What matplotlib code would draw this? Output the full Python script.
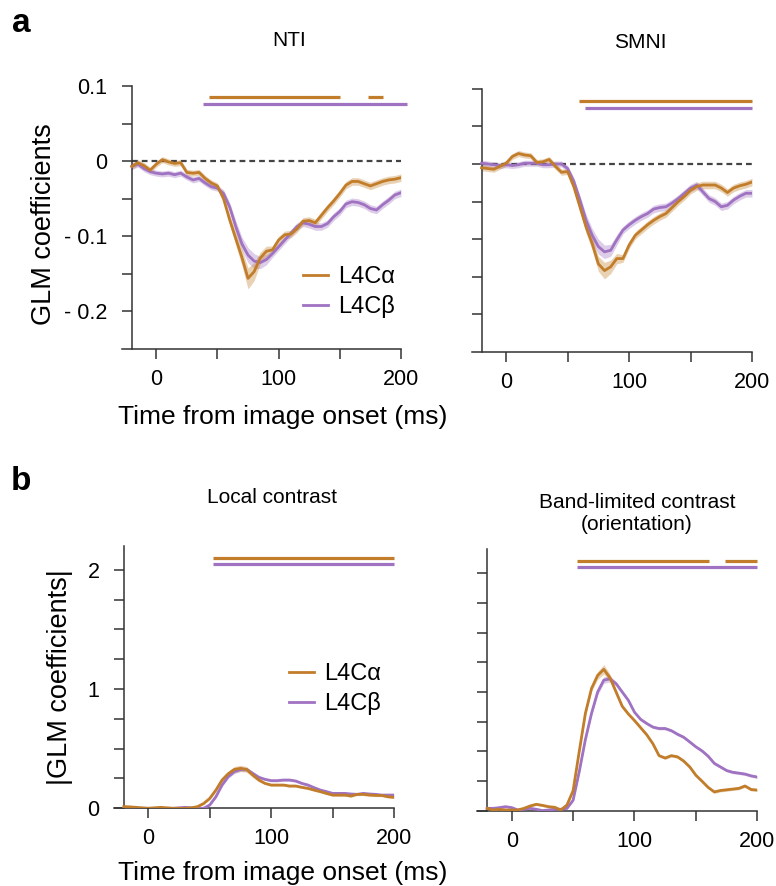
import numpy as np
import matplotlib
matplotlib.use('Agg')
import matplotlib.pyplot as plt

plt.rcParams['font.family'] = ['Liberation Sans', 'DejaVu Sans']

# eje temporal (ms desde el inicio de la imagen)
t = np.arange(-20, 205, 5)

# ---- panel a: NTI ----
nti_alpha = [-0.007, -0.002, -0.006, -0.012, -0.004, 0.002, -0.001, -0.003, -0.002, -0.015,
             -0.016, -0.015, -0.023, -0.029, -0.033, -0.050, -0.078, -0.103, -0.128, -0.156,
             -0.147, -0.129, -0.120, -0.118, -0.105, -0.098, -0.097, -0.090, -0.080, -0.079,
             -0.082, -0.072, -0.062, -0.053, -0.043, -0.032, -0.027, -0.027, -0.030, -0.033,
             -0.030, -0.027, -0.025, -0.024, -0.022]
nti_alpha_err = [0.004] * 15 + [0.005, 0.007, 0.009, 0.011, 0.014, 0.012, 0.008, 0.007] + [0.005] * 22
nti_beta = [-0.007, -0.004, -0.010, -0.014, -0.016, -0.017, -0.016, -0.018, -0.016, -0.021,
            -0.025, -0.023, -0.029, -0.034, -0.036, -0.043, -0.061, -0.087, -0.110, -0.125,
            -0.133, -0.135, -0.131, -0.123, -0.114, -0.105, -0.096, -0.087, -0.082, -0.084,
            -0.087, -0.087, -0.083, -0.074, -0.067, -0.057, -0.054, -0.055, -0.058, -0.063,
            -0.065, -0.058, -0.052, -0.045, -0.042]
nti_beta_err = [0.004] * 15 + [0.005, 0.006, 0.008, 0.009, 0.010, 0.010, 0.008, 0.007] + [0.005] * 22

# ---- panel a: SMNI ----
smni_alpha = [-0.005, -0.006, -0.007, -0.003, 0.001, 0.010, 0.014, 0.012, 0.011, 0.002,
              0.003, 0.006, -0.003, -0.011, -0.010, -0.030, -0.057, -0.084, -0.106, -0.133,
              -0.142, -0.137, -0.126, -0.126, -0.108, -0.095, -0.088, -0.081, -0.075, -0.070,
              -0.066, -0.058, -0.050, -0.043, -0.035, -0.030, -0.028, -0.028, -0.028, -0.032,
              -0.038, -0.032, -0.029, -0.027, -0.024]
smni_alpha_err = [0.004] * 15 + [0.005, 0.006, 0.008, 0.009, 0.010, 0.011, 0.009, 0.007] + [0.005] * 22
smni_beta = [0.001, 0.000, -0.001, -0.002, -0.001, -0.002, -0.001, 0.001, 0.001, 0.001,
             -0.001, -0.001, 0.000, 0.000, -0.006, -0.023, -0.048, -0.075, -0.095, -0.110,
             -0.117, -0.115, -0.101, -0.088, -0.081, -0.075, -0.070, -0.066, -0.060, -0.058,
             -0.057, -0.052, -0.046, -0.039, -0.032, -0.028, -0.037, -0.046, -0.050, -0.057,
             -0.055, -0.048, -0.043, -0.039, -0.039]
smni_beta_err = [0.004] * 15 + [0.005, 0.006, 0.008, 0.009, 0.010, 0.009, 0.008, 0.007] + [0.005] * 22

# ---- panel b: contraste local ----
local_alpha = [0.014, 0.012, 0.008, 0.004, 0.000, 0.004, 0.008, 0.004, 0.000, 0.000,
               0.000, 0.004, 0.014, 0.040, 0.083, 0.153, 0.237, 0.290, 0.326, 0.335,
               0.326, 0.279, 0.237, 0.209, 0.195, 0.195, 0.195, 0.187, 0.187, 0.176,
               0.167, 0.153, 0.140, 0.125, 0.111, 0.111, 0.111, 0.103, 0.117, 0.117,
               0.111, 0.108, 0.108, 0.097, 0.092]
local_alpha_err = [0.008] * 15 + [0.012, 0.015, 0.020, 0.024, 0.026, 0.024, 0.020, 0.015] + [0.010] * 22
local_beta = [0.000, 0.000, 0.000, 0.000, 0.000, 0.000, 0.000, 0.000, 0.000, 0.004,
              0.008, 0.004, 0.000, 0.000, 0.028, 0.097, 0.195, 0.265, 0.307, 0.326,
              0.326, 0.293, 0.260, 0.243, 0.232, 0.232, 0.237, 0.237, 0.229, 0.209,
              0.195, 0.173, 0.153, 0.140, 0.125, 0.125, 0.125, 0.120, 0.117, 0.125,
              0.120, 0.117, 0.111, 0.111, 0.111]
local_beta_err = [0.008] * 15 + [0.010, 0.012, 0.015, 0.017, 0.018, 0.017, 0.015, 0.012] + [0.010] * 22

# ---- panel b: contraste de banda limitada ----
band_alpha = [0.022, 0.008, 0.014, 0.008, 0.008, 0.008, 0.022, 0.042, 0.056, 0.047,
              0.036, 0.031, 0.008, 0.050, 0.170, 0.500, 0.820, 1.030, 1.140, 1.190,
              1.120, 1.000, 0.880, 0.815, 0.760, 0.700, 0.640, 0.565, 0.465, 0.445,
              0.465, 0.455, 0.420, 0.370, 0.300, 0.250, 0.198, 0.160, 0.172, 0.178,
              0.184, 0.190, 0.210, 0.180, 0.176]
band_alpha_err = [0.010] * 15 + [0.015, 0.020, 0.025, 0.032, 0.040, 0.032, 0.020, 0.015] + [0.012] * 22
band_beta = [0.022, 0.022, 0.028, 0.036, 0.028, 0.008, 0.014, 0.022, 0.014, 0.003,
             0.008, 0.014, 0.014, 0.022, 0.090, 0.330, 0.600, 0.820, 1.000, 1.100,
             1.110, 1.070, 1.000, 0.930, 0.830, 0.770, 0.735, 0.705, 0.693, 0.693,
             0.675, 0.645, 0.620, 0.580, 0.539, 0.505, 0.460, 0.400, 0.370, 0.340,
             0.325, 0.318, 0.310, 0.295, 0.285]
band_beta_err = [0.010] * 15 + [0.012, 0.015, 0.020, 0.025, 0.028, 0.025, 0.018, 0.015] + [0.012] * 22

# barras de significancia (inicio, fin) en ms
sig_nti_alpha = [(43, 150), (173, 185)]
sig_nti_beta = [(38, 205)]
sig_smni_alpha = [(59, 200)]
sig_smni_beta = [(64, 200)]
sig_local_alpha = [(53, 200)]
sig_local_beta = [(53, 200)]
sig_band_alpha = [(53, 161), (174, 200)]
sig_band_beta = [(53, 200)]

c_alpha = '#C27D2A'
c_beta = '#A072C2'

fig = plt.figure(figsize=(7.76, 8.86), dpi=100)

ax_nti = fig.add_axes([0.1572, 0.6061, 0.3595, 0.2968])
ax_smni = fig.add_axes([0.6079, 0.6031, 0.3612, 0.2965])
ax_loc = fig.add_axes([0.1469, 0.0877, 0.3608, 0.2960])
ax_band = fig.add_axes([0.6151, 0.0847, 0.3608, 0.2954])


def dibujar(ax, ya, ea, yb, eb, siga, sigb, ysig, ylim, yticks, yticklabels):
    ya, ea, yb, eb = map(np.array, (ya, ea, yb, eb))
    ax.fill_between(t, yb - eb, yb + eb, color=c_beta, alpha=0.35, lw=0)
    ax.fill_between(t, ya - ea, ya + ea, color=c_alpha, alpha=0.35, lw=0)
    ax.plot(t, yb, color=c_beta, lw=2.0, label='L4Cβ', zorder=3)
    ax.plot(t, ya, color=c_alpha, lw=2.0, label='L4Cα', zorder=4)
    for s, e in siga:
        ax.plot([s, e], [ysig[0], ysig[0]], color=c_alpha, lw=2.3, solid_capstyle='butt', clip_on=False)
    for s, e in sigb:
        ax.plot([s, e], [ysig[1], ysig[1]], color=c_beta, lw=2.3, solid_capstyle='butt', clip_on=False)
    ax.set_xlim(-28, 200)
    ax.set_ylim(*ylim)
    ax.spines['top'].set_visible(False)
    ax.spines['right'].set_visible(False)
    ax.spines['left'].set_position(('data', -20))
    for s in ('left', 'bottom'):
        ax.spines[s].set_color('#333333')
        ax.spines[s].set_linewidth(1.1)
    ax.set_xticks([0, 50, 100, 150, 200])
    ax.set_xticklabels(['0', '', '100', '', '200'])
    ax.set_yticks(yticks)
    ax.set_yticklabels(yticklabels)
    ax.tick_params(direction='out', length=7.5, width=1.1, color='#333333', labelsize=15.5)
    ax.tick_params(axis='x', pad=7)
    ax.tick_params(axis='y', pad=10)


# panel a
dibujar(ax_nti, nti_alpha, nti_alpha_err, nti_beta, nti_beta_err,
        sig_nti_alpha, sig_nti_beta, (0.085, 0.0755), (-0.25, 0.1),
        [-0.2, -0.15, -0.1, -0.05, 0, 0.05, 0.1], ['- 0.2', '', '- 0.1', '', '0', '', '0.1'])
dibujar(ax_smni, smni_alpha, smni_alpha_err, smni_beta, smni_beta_err,
        sig_smni_alpha, sig_smni_beta, (0.0845, 0.0748), (-0.25, 0.1),
        [-0.2, -0.15, -0.1, -0.05, 0, 0.05, 0.1], [''] * 7)
for ax in (ax_nti, ax_smni):
    ax.plot([-20, 200], [0, 0], color='#444444', lw=1.6, ls=(0, (2.6, 1.8)), zorder=2)

# panel b
bt = [0, 0.25, 0.5, 0.75, 1, 1.25, 1.5, 1.75, 2]
dibujar(ax_loc, local_alpha, local_alpha_err, local_beta, local_beta_err,
        sig_local_alpha, sig_local_beta, (2.10, 2.053), (0, 2.2),
        bt, ['0', '', '', '', '1', '', '', '', '2'])
dibujar(ax_band, band_alpha, band_alpha_err, band_beta, band_beta_err,
        sig_band_alpha, sig_band_beta, (2.103, 2.047), (0, 2.2),
        bt, [''] * 9)

# leyendas
for ax, anchor in ((ax_nti, (0.649, 0.217)), (ax_loc, (0.625, 0.455))):
    h, l = ax.get_legend_handles_labels()
    ax.legend(h[::-1], l[::-1], loc='center left', bbox_to_anchor=anchor, frameon=False,
              fontsize=17, handlelength=1.05, handletextpad=0.45, borderpad=0,
              borderaxespad=0, labelspacing=0.3)

# etiquetas de ejes
ax_nti.set_ylabel('GLM coefficients', fontsize=19.5)
ax_nti.yaxis.set_label_coords(-0.233, 0.475)
ax_loc.set_ylabel('|GLM coefficients|', fontsize=19.5)
ax_loc.yaxis.set_label_coords(-0.147, 0.5)
fig.text(283 / 776, 1 - 417 / 886, 'Time from image onset (ms)', fontsize=19, ha='center', va='center')
fig.text(283 / 776, 1 - 873 / 886, 'Time from image onset (ms)', fontsize=19, ha='center', va='center')

# títulos
fig.text(289 / 776, 1 - 40 / 886, 'NTI', fontsize=15, ha='center', va='center')
fig.text(640 / 776, 1 - 42 / 886, 'SMNI', fontsize=15, ha='center', va='center')
fig.text(272 / 776, 1 - 498 / 886, 'Local contrast', fontsize=15, ha='center', va='center')
fig.text(637 / 776, 1 - 514 / 886, 'Band-limited contrast\n(orientation)', fontsize=15,
         ha='center', va='center', linespacing=1.2)

fig.text(21 / 776, 1 - 23 / 886, 'a', fontsize=24, fontweight='bold', ha='center', va='center')
fig.text(21 / 776, 1 - 481 / 886, 'b', fontsize=24, fontweight='bold', ha='center', va='center')

fig.savefig('out.png', dpi=100)
